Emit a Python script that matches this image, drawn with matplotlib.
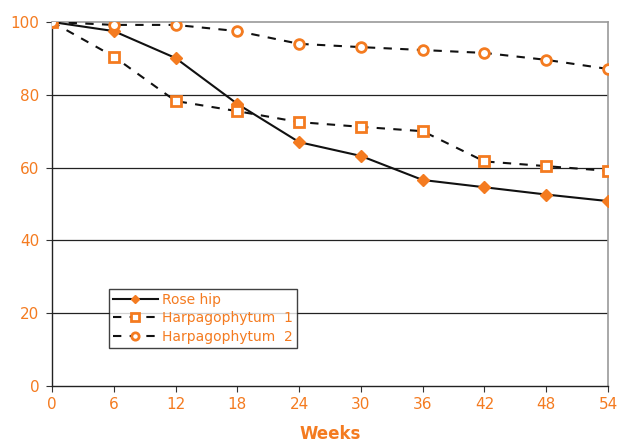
import matplotlib
matplotlib.use("Agg")
import matplotlib.pyplot as plt

weeks = [0, 6, 12, 18, 24, 30, 36, 42, 48, 54]
rose_hip = [100, 97.5, 90.1, 77.5, 67.0, 63.2, 56.6, 54.6, 52.6, 50.8]
harpago_1 = [100, 90.5, 78.3, 75.5, 72.5, 71.2, 70.0, 61.7, 60.4, 59.1]
harpago_2 = [100, 99.2, 99.2, 97.5, 94.0, 93.1, 92.3, 91.5, 89.6, 87.1]
y_ticks = [0, 20, 40, 60, 80, 100]

ORANGE = "#F47B20"
plt.rcParams["font.family"] = ["Verdana", "DejaVu Sans"]

fig = plt.figure(figsize=(6.2, 4.42), dpi=100)
ax = fig.add_axes([52 / 620, 56 / 442, 556 / 620, 364 / 442])

# horizontal grid lines
for y in y_ticks[1:-1]:
    ax.axhline(y, color="#222222", lw=0.9, zorder=1)

ax.plot(weeks, rose_hip, color="#111111", lw=1.5, marker="D", ms=6,
        mfc=ORANGE, mec=ORANGE, label="Rose hip", zorder=3)
ax.plot(weeks, harpago_1, color="#111111", lw=1.5, ls=(0, (4, 4)), marker="s",
        ms=7, mfc="white", mec=ORANGE, mew=2, label="Harpagophytum  1", zorder=3)
ax.plot(weeks, harpago_2, color="#111111", lw=1.5, ls=(0, (4, 4)), marker="o",
        ms=7, mfc="white", mec=ORANGE, mew=2, label="Harpagophytum  2", zorder=3)

ax.set_xlim(0, 54)
ax.set_ylim(0, 100)
ax.set_xticks(weeks)
ax.set_yticks(y_ticks)
ax.tick_params(axis="both", colors="#333333", labelcolor=ORANGE, labelsize=11,
               length=4, direction="out")
ax.tick_params(axis="x", pad=4)
ax.tick_params(axis="y", pad=5)

for side in ("left", "bottom"):
    ax.spines[side].set_color("#222222")
    ax.spines[side].set_linewidth(1.0)
for side in ("top", "right"):
    ax.spines[side].set_color("#999999")
    ax.spines[side].set_linewidth(1.2)

for lab in ax.get_xticklabels() + ax.get_yticklabels():
    lab.set_clip_on(False)

ax.set_xlabel("Weeks", color=ORANGE, fontsize=12, fontweight="bold", labelpad=9)

leg = ax.legend(loc="upper left", bbox_to_anchor=(57 / 556, (386 - 289) / 364),
                frameon=True, fancybox=False, fontsize=10, handlelength=3.2,
                borderpad=0.3, labelspacing=0.3, handletextpad=0.3,
                borderaxespad=0, markerscale=0.75)
leg.get_frame().set_edgecolor("#111111")
leg.get_frame().set_linewidth(1.0)
for t in leg.get_texts():
    t.set_color(ORANGE)

fig.savefig("out.png", dpi=100)
